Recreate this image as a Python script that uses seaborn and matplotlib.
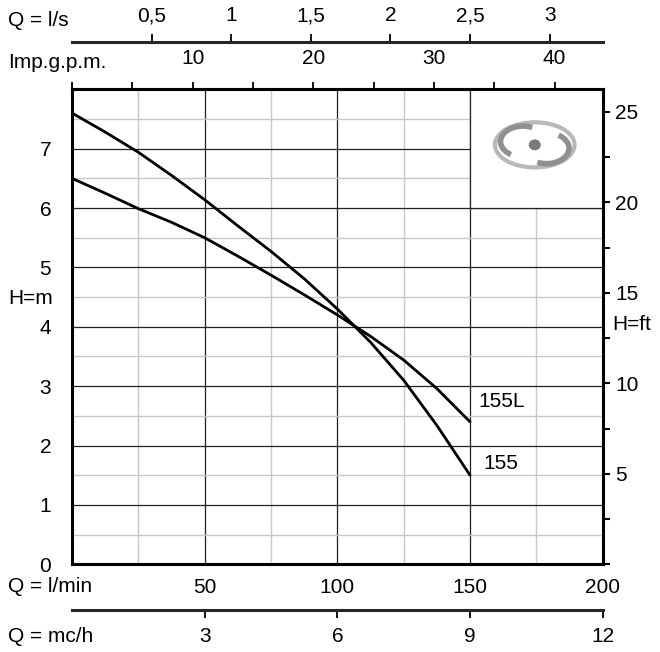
import numpy as np
import pandas as pd
import matplotlib
matplotlib.use("Agg")
import matplotlib.pyplot as plt
import seaborn as sns
from matplotlib.patches import Rectangle, Ellipse, Arc, Circle
from matplotlib.ticker import MultipleLocator

# === Data ===
flow_lmin = [0, 12.5, 25, 37.5, 50, 62.5, 75, 87.5, 100, 112.5, 125, 137.5, 150]
head_155 = [7.6, 7.28, 6.94, 6.55, 6.14, 5.70, 5.27, 4.81, 4.30, 3.74, 3.10, 2.34, 1.5]
head_155L = [6.5, 6.25, 5.99, 5.76, 5.50, 5.19, 4.87, 4.54, 4.20, 3.84, 3.44, 2.96, 2.4]

lmin_ticks = [50, 100, 150, 200]
m_ticks = [0, 1, 2, 3, 4, 5, 6, 7]
ft_ticks = [5, 10, 15, 20, 25]
gpm_ticks = [10, 20, 30, 40]
ls_ticks = [0.5, 1, 1.5, 2, 2.5, 3]
ls_labels = ["0,5", "1", "1,5", "2", "2,5", "3"]
mch_ticks = [3, 6, 9, 12]

sns.set_style("white")
plt.rcParams["font.family"] = ["Liberation Sans", "DejaVu Sans"]
plt.rcParams["text.color"] = "black"
plt.rcParams["xtick.color"] = "black"
plt.rcParams["ytick.color"] = "black"
plt.rcParams["xtick.labelcolor"] = "black"
plt.rcParams["ytick.labelcolor"] = "black"
FS = 15

fig = plt.figure(figsize=(6.6, 6.52), dpi=100)
ax = fig.add_axes([72 / 660, 1 - 564.3 / 652, 530.7 / 660, 475 / 652])

df = pd.DataFrame({
    "Q": flow_lmin * 2,
    "H": head_155 + head_155L,
    "pump": ["155"] * len(flow_lmin) + ["155L"] * len(flow_lmin),
})
sns.lineplot(data=df, x="Q", y="H", hue="pump", palette=["black", "black"],
             linewidth=2.0, legend=False, ax=ax, zorder=3)

ax.set_xlim(0, 200)
ax.set_ylim(0, 8)
ax.set_xlabel("")
ax.set_ylabel("")

# === Grid ===
ax.set_axisbelow(True)
ax.xaxis.set_major_locator(MultipleLocator(50))
ax.xaxis.set_minor_locator(MultipleLocator(25))
ax.yaxis.set_major_locator(MultipleLocator(1))
ax.yaxis.set_minor_locator(MultipleLocator(0.5))
ax.grid(which="major", color="#222222", linewidth=0.9)
ax.grid(which="minor", color="#c8c8c8", linewidth=1.0)
ax.set_xticks(lmin_ticks)
ax.set_yticks(m_ticks)
ax.tick_params(which="both", length=0)
ax.tick_params(axis="x", labelsize=FS, pad=10)
ax.tick_params(axis="y", labelsize=FS, pad=15)
for sp in ax.spines.values():
    sp.set_visible(True)
    sp.set_linewidth(2.2)
    sp.set_color("black")

# white box for the logo (top right)
ax.add_patch(Rectangle((150, 6), 50, 2, facecolor="white", edgecolor="#222222",
                       linewidth=0.9, zorder=1))

# logo: stylised impeller
logo_c = (0.872, 0.883)
ax.add_patch(Ellipse(logo_c, 0.15, 0.095, transform=ax.transAxes, fill=False,
                     edgecolor="#b8b8b8", linewidth=3, zorder=4))
ax.add_patch(Arc((0.850, 0.890), 0.085, 0.065, theta1=60, theta2=230, transform=ax.transAxes,
                 edgecolor="#909090", linewidth=4, zorder=4))
ax.add_patch(Arc((0.894, 0.876), 0.085, 0.065, theta1=240, theta2=50, transform=ax.transAxes,
                 edgecolor="#909090", linewidth=4, zorder=4))
ax.add_patch(Circle(logo_c, 0.010, transform=ax.transAxes, color="#7a7a7a", zorder=4))

# curve labels
ax.text(153, 2.75, "155L", fontsize=FS, va="center", ha="left")
ax.text(155.2, 1.7, "155", fontsize=FS, va="center", ha="left")

# === Right axis H = ft ===
axr = ax.twinx()
axr.set_ylim(0, 8 / 0.3048)
axr.set_yticks(ft_ticks)
axr.yaxis.set_minor_locator(MultipleLocator(2.5))
axr.tick_params(axis="y", which="both", direction="out", length=5, width=1.5,
                right=True, labelsize=FS, pad=4)
axr.grid(False)
for sp in axr.spines.values():
    sp.set_visible(False)

# === Top axes: Imp.g.p.m. and l/s ===
gpm = 4.54609
top1 = ax.secondary_xaxis("top", functions=(lambda q: q / gpm, lambda g: g * gpm))
top1.set_xticks(gpm_ticks)
top1.xaxis.set_minor_locator(MultipleLocator(5))
top1.tick_params(which="both", direction="out", length=5, width=1.3, labelsize=FS, pad=10)
top1.spines["top"].set_linewidth(2.2)

top2 = ax.secondary_xaxis(1 + (89.3 - 41.7) / 475,
                          functions=(lambda q: q / 60.0, lambda s: s * 60.0))
top2.set_xticks(ls_ticks, ls_labels)
top2.tick_params(which="both", direction="out", length=6, width=1.3, labelsize=FS, pad=6)
top2.spines["top"].set_linewidth(2.2)

# === Bottom axis: mc/h ===
bot = ax.secondary_xaxis(-(610 - 564.3) / 475,
                         functions=(lambda q: q * 0.06, lambda m: m / 0.06))
bot.set_xticks(mch_ticks)
bot.tick_params(which="both", direction="out", length=6, width=1.3, labelsize=FS, pad=6)
bot.spines["bottom"].set_linewidth(2.2)

# === Axis names ===
fig.text(8 / 660, 1 - 20 / 652, "Q = l/s", fontsize=FS, va="center", ha="left")
fig.text(8 / 660, 1 - 63 / 652, "Imp.g.p.m.", fontsize=FS, va="center", ha="left")
fig.text(8 / 660, 1 - 298 / 652, "H=m", fontsize=FS, va="center", ha="left")
fig.text(612 / 660, 1 - 325 / 652, "H=ft", fontsize=FS, va="center", ha="left")
fig.text(8 / 660, 1 - 586 / 652, "Q = l/min", fontsize=FS, va="center", ha="left")
fig.text(8 / 660, 1 - 637 / 652, "Q = mc/h", fontsize=FS, va="center", ha="left")

fig.savefig("out.png", dpi=100)
